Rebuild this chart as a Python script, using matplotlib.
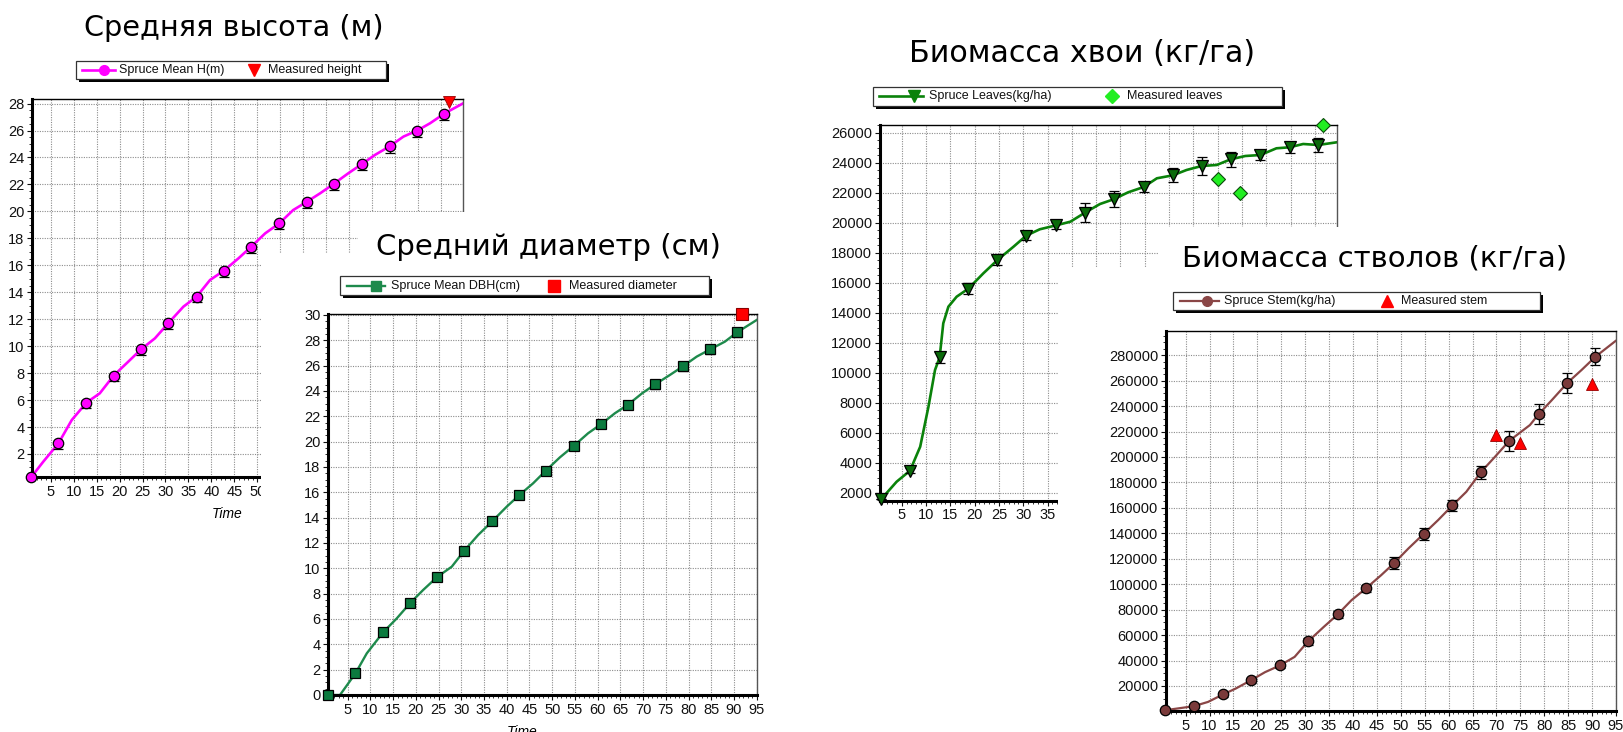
import matplotlib.pyplot as plt
from matplotlib.lines import Line2D
from matplotlib.patches import Rectangle
from matplotlib.ticker import MultipleLocator, FuncFormatter

plt.rcParams['font.family'] = ['Liberation Sans', 'DejaVu Sans']

W, H = 1623, 732

# simulation years where the model output is sampled
years = [0.75, 6.7, 12.8, 18.7, 24.7, 30.6, 36.8, 42.7, 48.6, 54.8, 60.8, 66.7, 72.7, 78.8, 84.8, 90.7]

# mean height (m)
height = [0.27, 2.79, 5.81, 7.81, 9.77, 11.70, 13.68, 15.60, 17.36, 19.12, 20.72, 22.06, 23.50, 24.83, 26.00, 27.26]
height_lo = [0, 0.4, 0.4, 0.4, 0.4, 0.4, 0.4, 0.45, 0.45, 0.45, 0.45, 0.45, 0.45, 0.5, 0.5, 0.5]
height_hi = [0, 0.1, 0.1, 0.1, 0.1, 0.1, 0.1, 0.1, 0.1, 0.1, 0.1, 0.1, 0.1, 0.1, 0.1, 0.1]
height_t = [0.75, 3.4, 6.7, 9.6, 12.8, 15.7, 18.7, 21.9, 24.7, 27.7, 30.6, 33.9, 36.8, 39.7, 42.7, 45.9,
            48.6, 51.7, 54.8, 57.8, 60.8, 63.7, 66.7, 69.8, 72.7, 75.6, 78.8, 81.8, 84.8, 87.6, 90.7, 94.7]
height_curve = [0.27, 1.43, 2.79, 4.52, 5.81, 6.5, 7.81, 8.85, 9.77, 10.58, 11.70, 12.93, 13.68, 14.91, 15.60, 16.52,
                17.36, 18.37, 19.12, 20.1, 20.72, 21.35, 22.06, 22.83, 23.50, 24.19, 24.83, 25.55, 26.00, 26.54, 27.26, 28.0]
height_meas_t = [91.7]
height_meas = [28.1]

# mean DBH (cm)
dbh = [0.0, 1.71, 4.95, 7.24, 9.32, 11.37, 13.71, 15.76, 17.71, 19.68, 21.39, 22.92, 24.53, 25.95, 27.29, 28.63]
dbh_lo = [0, 0.3, 0.3, 0.3, 0.3, 0.3, 0.3, 0.3, 0.3, 0.35, 0.35, 0.35, 0.35, 0.35, 0.4, 0.4]
dbh_hi = [0, 0.1, 0.1, 0.1, 0.1, 0.1, 0.1, 0.1, 0.1, 0.1, 0.1, 0.1, 0.1, 0.1, 0.1, 0.1]
dbh_t = [0.75, 3.3, 6.7, 9.2, 12.8, 15.8, 18.7, 21.6, 24.7, 27.9, 30.6, 33.7, 36.8, 40.0, 42.7, 45.8,
         48.6, 51.7, 54.8, 57.9, 60.8, 63.8, 66.7, 69.8, 72.7, 75.9, 78.8, 81.8, 84.8, 88.0, 90.7, 95.0]
dbh_curve = [0.0, 0.0, 1.71, 3.29, 4.95, 6.05, 7.24, 8.29, 9.32, 10.13, 11.37, 12.63, 13.71, 14.87, 15.76, 16.71,
             17.71, 18.76, 19.68, 20.66, 21.39, 22.24, 22.92, 23.82, 24.53, 25.26, 25.95, 26.71, 27.29, 27.89, 28.63, 29.6]
dbh_meas_t = [91.7]
dbh_meas = [30.1]

# leaf biomass (kg/ha)
leaves = [1560, 3467, 11027, 15600, 17513, 19133, 19827, 20667, 21560, 22380, 23160, 23780, 24227, 24513, 25027, 25180]
leaves_err = [0, 150, 360, 360, 310, 300, 220, 620, 520, 360, 460, 600, 510, 350, 350, 445]
leaves_t = [0.75, 3.95, 6.7, 8.8, 10.5, 11.85, 12.8, 13.55, 14.6, 16.3, 18.7, 21.8, 24.7, 28.0, 30.6, 33.4, 36.8, 39.7,
            42.7, 45.8, 48.6, 51.6, 54.8, 57.5, 60.8, 63.6, 66.7, 69.8, 72.7, 75.7, 78.8, 82.1, 84.8, 87.6, 90.7, 94.5]
leaves_curve = [1560, 2733, 3467, 5067, 7733, 10180, 11027, 13293, 14400, 15067, 15600, 16627, 17513, 18400, 19133,
                19560, 19827, 20067, 20667, 21247, 21560, 22027, 22380, 22960, 23160, 23513, 23780, 23847, 24227,
                24447, 24513, 24960, 25027, 25247, 25180, 25360]
leaves_meas_t = [70.0, 74.6, 91.7]
leaves_meas = [22913, 22000, 26500]

# stem biomass (kg/ha)
stem = [940, 4090, 13290, 24540, 36100, 54970, 76210, 96660, 116560, 139600, 161900, 187880, 212740, 233500, 258110, 278800]
stem_err = [0, 1500, 2000, 2000, 2000, 2500, 2500, 3000, 4600, 4900, 4300, 5200, 7900, 7900, 8000, 6800]
stem_t = [0.75, 6.7, 9.7, 12.8, 15.5, 18.7, 21.6, 24.7, 27.8, 30.6, 33.9, 36.8, 39.7, 42.7, 45.9, 48.6, 51.6, 54.8,
          57.8, 60.8, 63.7, 66.7, 69.7, 72.7, 77.0, 78.8, 81.6, 84.8, 87.8, 90.7, 94.9]
stem_curve = [940, 4090, 7470, 13290, 18000, 24540, 30830, 36100, 42870, 54970, 66460, 76210, 87460, 96660, 107120,
              116560, 128110, 139600, 150370, 161900, 172630, 187880, 200160, 212740, 225090, 233500, 244770, 258110,
              268370, 278800, 291150]
stem_meas_t = [70.0, 75.0, 90.0]
stem_meas = [217500, 211330, 257730]

fig = plt.figure(figsize=(W / 100, H / 100), dpi=100)


def fx(x):
    return x / W


def fy(y):
    return 1 - y / H


def box(l, t, r, b):
    # pixel box (from top-left) -> figure fraction rect
    return [l / W, 1 - b / H, (r - l) / W, (b - t) / H]


def panel(px, xlim, ylim, ymajor, yminor, z, xlab_max=100):
    ax = fig.add_axes(box(*px), zorder=z)
    ax.set_xlim(xlim)
    ax.set_ylim(ylim)
    ax.xaxis.set_major_locator(MultipleLocator(5))
    ax.xaxis.set_minor_locator(MultipleLocator(1))
    # labels that end up underneath the next chart are left blank
    ax.xaxis.set_major_formatter(FuncFormatter(lambda v, p: f'{v:.0f}' if v <= xlab_max else ''))
    ax.yaxis.set_major_locator(MultipleLocator(ymajor))
    ax.yaxis.set_minor_locator(MultipleLocator(yminor))
    ax.grid(True, which='major', color='#8c8c8c', linestyle=(0, (1, 1.2)), linewidth=0.8)
    ax.set_axisbelow(True)
    ax.tick_params(which='both', direction='out', labelsize=10.5, colors='#111111', pad=2)
    ax.tick_params(which='major', length=3.5, width=0.8)
    ax.tick_params(which='minor', length=2, width=0.6)
    for s in ['left', 'bottom']:
        ax.spines[s].set_linewidth(2.2)
    ax.spines['top'].set_linewidth(1.0)
    ax.spines['right'].set_linewidth(1.0)
    ax.spines['right'].set_color('#555555')
    return ax


def heading(ax, text, cx, cy, size):
    ax.text(fx(cx), fy(cy), text, transform=fig.transFigure, ha='center', va='center',
            fontsize=size, family='DejaVu Sans')


def key(ax, frame, xs, model_style, meas_style, labels):
    # frame: l, t, r, b in pixels; xs: line start, line end, marker, text, measured marker, measured text
    l, t, r, b = frame
    yc = fy((t + b) / 2)
    ax.add_artist(Rectangle((fx(l + 3), fy(b + 3)), (r - l) / W, (b - t) / H, transform=fig.transFigure,
                            facecolor='black', edgecolor='none', clip_on=False))
    ax.add_artist(Rectangle((fx(l), fy(b)), (r - l) / W, (b - t) / H, transform=fig.transFigure,
                            facecolor='white', edgecolor='#333333', lw=0.9, clip_on=False))
    color, lw, marker, ms = model_style
    ax.add_artist(Line2D([fx(xs[0]), fx(xs[1])], [yc, yc], color=color, lw=lw,
                         transform=fig.transFigure, clip_on=False))
    ax.add_artist(Line2D([fx(xs[2])], [yc], ls='none', marker=marker, ms=ms, color=color,
                         transform=fig.transFigure, clip_on=False))
    mcolor, mmarker, mms = meas_style
    ax.add_artist(Line2D([fx(xs[4])], [yc], ls='none', marker=mmarker, ms=mms, color=mcolor,
                         transform=fig.transFigure, clip_on=False))
    for x, s in zip([xs[3], xs[5]], labels):
        ax.text(fx(x), yc, s, transform=fig.transFigure, va='center', ha='left', fontsize=9, color='#111111')


def cover(l, t, r, b, z):
    fig.add_artist(Rectangle((fx(l), fy(b)), (r - l) / W, (b - t) / H, transform=fig.transFigure,
                             facecolor='white', edgecolor='none', zorder=z))


def model(ax, t, curve, vals, err, color, lw, marker, ms, mfc):
    ax.plot(t, curve, color=color, lw=lw, zorder=2)
    eb = ax.errorbar(years, vals, yerr=err, fmt=marker, ms=ms, mfc=mfc, mec='black', mew=0.9,
                     ecolor='black', elinewidth=1, capsize=3.5, capthick=1, zorder=3)
    parts = [eb.lines[0]] + list(eb.lines[1]) + list(eb.lines[2])
    for a in parts:
        a.set_clip_on(False)


# --- mean height ---
ax1 = panel((32, 99, 462.7, 477), (0.94, 94.7), (0.29, 28.34), 2, 0.5, 1, xlab_max=50)
model(ax1, height_t, height_curve, height, [height_lo, height_hi], '#FF00FF', 1.9, 'o', 7.5, '#FF00FF')
ax1.plot(height_meas_t, height_meas, 'v', color='#FF0000', ms=9, mec='#990000', mew=0.6, clip_on=False, zorder=4)
heading(ax1, 'Средняя высота (м)', 234, 28, 20.7)
key(ax1, (76, 61, 385.5, 79), (82, 115, 104, 119, 254, 268),
    ('#FF00FF', 1.9, 'o', 7), ('#FF0000', 'v', 9), ['Spruce Mean H(m)', 'Measured height'])
ax1.text(fx(227), fy(517.5), 'Time', transform=fig.transFigure, ha='center', va='baseline',
         fontsize=10, style='italic')

# the DBH chart sits on top of the lower right part of the height chart
cover(260.5, 253, 800, 732, 2)
cover(358, 212, 770, 253, 2)

# --- mean DBH ---
ax2 = panel((328, 314.3, 757, 695), (0.66, 95.07), (0, 30.05), 2, 0.5, 3)
model(ax2, dbh_t, dbh_curve, dbh, [dbh_lo, dbh_hi], '#1E8A4C', 1.7, 's', 7, '#0B7A3E')
ax2.plot(dbh_meas_t, dbh_meas, 's', color='#FF0000', ms=8.5, mec='#880000', mew=0.8, clip_on=False, zorder=4)
heading(ax2, 'Средний диаметр (см)', 548, 247, 21)
key(ax2, (340, 276, 709.3, 295.3), (346.7, 385, 376, 390.7, 554, 569),
    ('#1E8A4C', 1.7, 's', 6.5), ('#FF0000', 's', 8), ['Spruce Mean DBH(cm)', 'Measured diameter'])
ax2.text(fx(522), fy(736.5), 'Time', transform=fig.transFigure, ha='center', va='baseline',
         fontsize=10, style='italic')

# --- leaf biomass ---
ax3 = panel((880, 125, 1336.7, 500.7), (0.53, 94.5), (1467, 26513), 2000, 500, 4, xlab_max=35)
model(ax3, leaves_t, leaves_curve, leaves, leaves_err, '#0A820A', 1.9, 'v', 8.5, '#0A6A0A')
ax3.plot(leaves_meas_t, leaves_meas, 'D', color='#22EE22', ms=7.5, mec='#0A4A0A', mew=0.8, clip_on=False, zorder=4)
heading(ax3, 'Биомасса хвои (кг/га)', 1082, 54, 21.7)
key(ax3, (872.7, 86.7, 1281.7, 106), (879, 923, 914, 929, 1111.7, 1126.7),
    ('#0A820A', 1.9, 'v', 8), ('#22EE22', 'D', 7), ['Spruce Leaves(kg/ha)', 'Measured leaves'])

# the stem chart sits on top of the lower right part of the leaf chart
cover(1058, 268, 1623, 732, 5)
cover(1158, 227, 1623, 268, 5)

# --- stem biomass ---
ax4 = panel((1165.9, 330.7, 1616, 711.2), (0.88, 95.0), (160, 299250), 20000, 5000, 6)
model(ax4, stem_t, stem_curve, stem, stem_err, '#8A4646', 1.6, 'o', 7.5, '#7A3A3A')
ax4.plot(stem_meas_t, stem_meas, '^', color='#FF0000', ms=9, mec='#990000', mew=0.6, clip_on=False, zorder=4)
heading(ax4, 'Биомасса стволов (кг/га)', 1375, 259, 21)
key(ax4, (1172.8, 291.7, 1540, 310), (1179.7, 1218.5, 1207.4, 1223.7, 1386.5, 1401.4),
    ('#8A4646', 1.6, 'o', 7), ('#FF0000', '^', 9), ['Spruce Stem(kg/ha)', 'Measured stem'])

fig.savefig('out.png', dpi=100)
